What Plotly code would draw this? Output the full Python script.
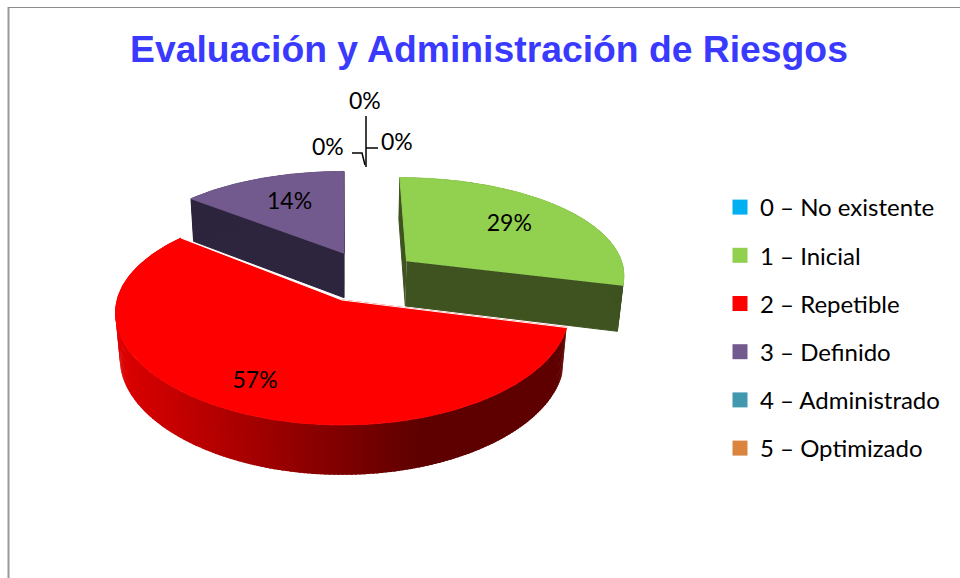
# -*- coding: utf-8 -*-
"""Evaluacion y Administracion de Riesgos: exploded 3D pie drawn on a pixel-sized axis."""
import math

import plotly.graph_objects as go

CATEGORIES = ["0 – No existente", "1 – Inicial", "2 – Repetible",
              "3 – Definido", "4 – Administrado", "5 – Optimizado"]
PERCENTS = [0, 29, 57, 14, 0, 0]
COLORS = ["#00b0f0", "#92d050", "#ff0000", "#725a8e", "#4198af", "#db843d"]
WALL_COLORS = ["#00b0f0", "#3e5320", "#5f0000", "#2d243d", "#4198af", "#db843d"]
TITLE = "Evaluación y Administración de Riesgos"

# projection of the unit disc onto the page
CX, CY = 342, 300
A, B = 225, 106.5
PERSP = 0.148
PERSP_X = 0.12
DEPTH = 46
DEPTH_SHRINK = 0.02
OFFSETS = {1: (0.30, -0.385), 2: (0.0, 0.0), 3: (0.01, -0.47)}
LABEL_R = {1: 0.65, 2: 0.78, 3: 0.64}

LABEL_FONT = "Lato, Carlito, Calibri, sans-serif"


def project(px, py, z=0):
    s = 1 / (1 - PERSP * py)
    sx = 1 / (1 - PERSP_X * py + DEPTH_SHRINK * z)
    return CX + A * px * sx, CY + B * py * s + DEPTH * z * math.sqrt(s)


def rim(i, ang, z=0):
    ox, oy = OFFSETS[i]
    rad = math.radians(ang)
    return project(ox + math.sin(rad), oy - math.cos(rad), z)


def apex(i, z=0):
    ox, oy = OFFSETS[i]
    return project(ox, oy, z)


def poly(points, color, width=1):
    return go.Scatter(x=[p[0] for p in points], y=[p[1] for p in points],
                      mode="lines", fill="toself", fillcolor=color,
                      line=dict(color=color, width=width),
                      hoverinfo="skip", showlegend=False)


def red_wall_color(x):
    # bright on the left, dark from about x=420 onwards
    t = min(max((x - 115) / (420 - 115), 0), 1)
    return "rgb(%d,0,0)" % round(222 + (95 - 222) * t)


fig = go.Figure()

# slice angles, clockwise from 12 o'clock
spans = {}
start = 0
for i, val in enumerate(PERCENTS):
    spans[i] = (start, start + val * 3.6)
    start += val * 3.6

for i in (3, 1, 2):
    a0, a1 = spans[i]
    n = max(int(a1 - a0), 8)
    angs = [a0 + (a1 - a0) * k / n for k in range(n + 1)]
    if i != 2:
        for a in (a0, a1):
            fig.add_trace(poly([apex(i), rim(i, a), rim(i, a, 1), apex(i, 1)], WALL_COLORS[i]))
    for a, b in zip(angs, angs[1:]):
        # quads overlap a little and have no outline, so no seams show in the gradient
        b2 = min(b + 0.7, a1)
        quad = [rim(i, a), rim(i, b2), rim(i, b2, 1), rim(i, a, 1)]
        color = red_wall_color(quad[0][0]) if i == 2 else WALL_COLORS[i]
        fig.add_trace(poly(quad, color, width=0))
    fig.add_trace(poly([apex(i)] + [rim(i, a) for a in angs], COLORS[i]))

# white hairline where the red top meets the slices behind it
p0, p1, p2 = rim(2, spans[2][0]), apex(2), rim(2, spans[2][1])
fig.add_trace(go.Scatter(x=[p0[0], p1[0], p2[0]], y=[p0[1], p1[1], p2[1]], mode="lines",
                         line=dict(color="white", width=1),
                         hoverinfo="skip", showlegend=False))

# percent labels
lx, ly, lt = [], [], []
for i, val in enumerate(PERCENTS):
    if val:
        mid = sum(spans[i]) / 2
        ox, oy = OFFSETS[i]
        rad = math.radians(mid)
        x, y = project(ox + LABEL_R[i] * math.sin(rad), oy - LABEL_R[i] * math.cos(rad))
        lx.append(x)
        ly.append(y)
        lt.append(f"{val}%")
fig.add_trace(go.Scatter(x=lx, y=ly, text=lt, mode="text", textposition="middle center",
                         textfont=dict(family=LABEL_FONT, size=23, color="black"),
                         hoverinfo="skip", showlegend=False))

# the three empty slices only show as leader lines
zero_labels = [f"{v}%" for v in PERCENTS if v == 0]
for text, x, y in zip(zero_labels, (365, 397, 328), (100, 141, 146)):
    fig.add_annotation(x=x, y=y, xref="x", yref="y", text=text, showarrow=False,
                       font=dict(family=LABEL_FONT, size=23, color="black"))
for path in ("M366,116 L366,167", "M366,148 L378,148", "M352,153 L362,153 L365,165"):
    fig.add_shape(type="path", path=path, line=dict(color="black", width=1.5))

# legend entries
for cat, color in zip(CATEGORIES, COLORS):
    fig.add_trace(go.Scatter(x=[None], y=[None], mode="markers", name=cat, legendgroup=cat,
                             marker=dict(symbol="square", size=15, color=color)))

# page frame, left and top only
fig.add_shape(type="line", xref="x", yref="y", x0=8.5, x1=8.5, y0=7, y1=578,
              line=dict(color="#9a9a9a", width=2))
fig.add_shape(type="line", xref="x", yref="y", x0=8, x1=960, y0=7.5, y1=7.5,
              line=dict(color="#8c8c8c", width=1))

fig.update_layout(
    width=960, height=578, margin=dict(l=0, r=0, t=0, b=0),
    paper_bgcolor="white", plot_bgcolor="white",
    title=dict(text=TITLE, x=489 / 960, xanchor="center", y=1 - 49 / 578, yanchor="middle",
               font=dict(family="Liberation Sans, Arial, sans-serif", size=37.3, color="#3a3aff",
                         weight="bold")),
    xaxis=dict(range=[0, 960], visible=False, fixedrange=True),
    yaxis=dict(range=[578, 0], visible=False, fixedrange=True),
    legend=dict(x=720 / 960, y=1 - 185 / 578, xanchor="left", yanchor="top",
                font=dict(family=LABEL_FONT, size=24, color="black"),
                tracegroupgap=14, bgcolor="rgba(0,0,0,0)"),
)

# the page's default body margin would push the figure 8px off the window
fig.write_html("out.html", config={"displayModeBar": False},
               post_script="document.body.style.margin='0';")
